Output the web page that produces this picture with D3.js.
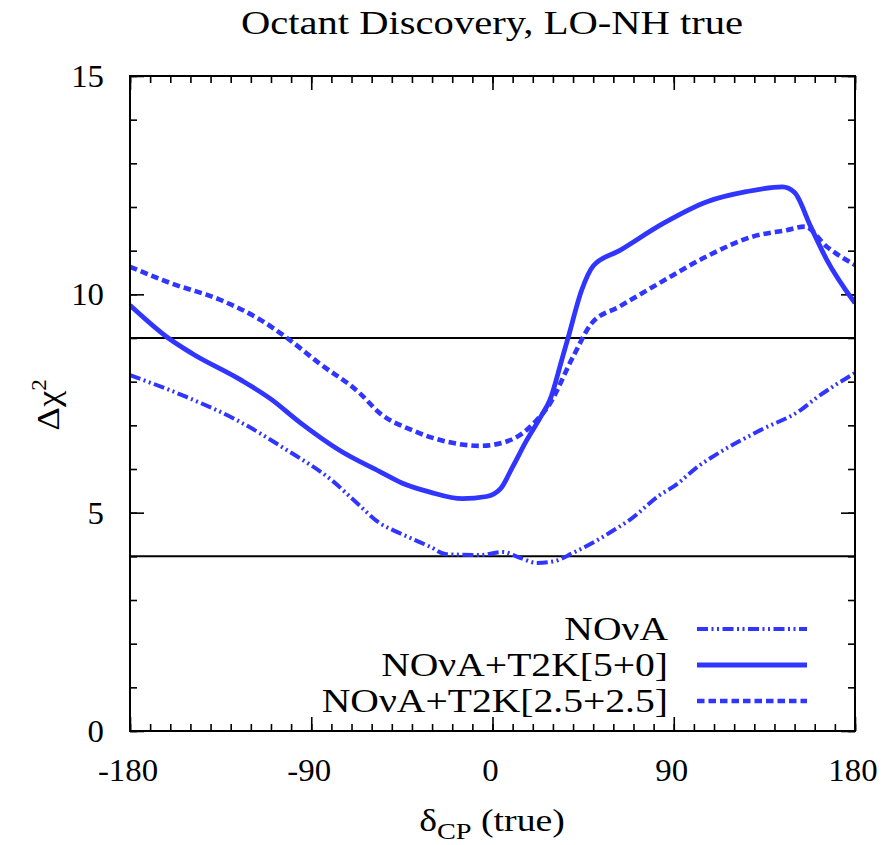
<!DOCTYPE html>
<html><head><meta charset="utf-8">
<script src="https://cdn.jsdelivr.net/npm/d3@7"></script>
<style>body{margin:0;background:#fff}svg{display:block}text{font-family:"Liberation Serif","DejaVu Serif",serif;fill:#000}</style>
</head><body>
<svg id="chart" width="892" height="845"></svg>
<script>
const title = "Octant Discovery, LO-NH true";
const xTicks = [-180, -90, 0, 90, 180];
const yTicks = [0, 5, 10, 15];
const refLines = [9, 4];
const seriesNames = ["NO\u03BDA", "NO\u03BDA+T2K[5+0]", "NO\u03BDA+T2K[2.5+2.5]"];

const novaDelta = [-180, -152, -127, -102, -80, -68, -56, -46, -31, -23, -6, 5, 14, 22, 30, 40, 52, 63, 68, 83, 90, 103, 110, 133, 153, 160, 180];
const novaChi   = [8.15, 7.65, 7.12, 6.43, 5.75, 5.25, 4.76, 4.53, 4.22, 4.05, 4.03, 4.1, 3.96, 3.85, 3.88, 4.08, 4.37, 4.68, 4.83, 5.4, 5.6, 6.09, 6.3, 6.89, 7.35, 7.6, 8.2];

const t2k50Delta = [-180, -161, -149, -125, -110, -96, -76, -56, -45, -31, -15, -3, 4, 10, 17, 24, 28.5, 34.4, 37.5, 44.3, 50, 63, 85, 106.5, 126, 144, 150, 158, 166, 180];
const t2k50Chi   = [9.75, 9.0, 8.64, 8.04, 7.6, 7.08, 6.43, 5.94, 5.68, 5.47, 5.32, 5.37, 5.55, 6.05, 6.66, 7.2, 7.58, 8.5, 9.0, 10.1, 10.65, 11.0, 11.63, 12.12, 12.35, 12.46, 12.33, 11.55, 10.79, 9.8];

const t2k25Delta = [-180, -160, -135, -115, -102, -86, -66, -56, -40, -23, -6, 7, 15, 22, 27.6, 40, 49.3, 63, 83, 106, 129, 146, 155, 166, 180];
const t2k25Chi   = [10.63, 10.26, 9.87, 9.41, 9.0, 8.42, 7.74, 7.28, 6.89, 6.63, 6.53, 6.63, 6.82, 7.12, 7.43, 8.57, 9.34, 9.72, 10.26, 10.86, 11.32, 11.47, 11.55, 11.09, 10.67];

const svg = d3.select("#chart");
const L = 130, R = 855, T = 76, B = 731;
const x = d3.scaleLinear().domain([-180, 180]).range([L, R]);
const y = d3.scaleLinear().domain([0, 15]).range([B, T]);
const blue = "#3035ff";

function txt(g, xp, yp, s, size, anchor, sx) {
  return g.append("text").attr("transform", `translate(${xp},${yp}) scale(${sx || 1.1},1)`)
    .attr("font-size", size).attr("text-anchor", anchor || "middle").text(s);
}

// title
txt(svg, 492, 34, title, 33, "middle", 1.23);

// axes with inward ticks
const minorX = d3.range(-180, 181, 10), minorY = d3.range(0, 16, 1);
const axB = d3.axisBottom(x).tickValues(minorX).tickSize(-7).tickFormat("");
const axT = d3.axisTop(x).tickValues(minorX).tickSize(-7).tickFormat("");
const axL = d3.axisLeft(y).tickValues(minorY).tickSize(-7).tickFormat("");
const axR = d3.axisRight(y).tickValues(minorY).tickSize(-7).tickFormat("");
const axB2 = d3.axisBottom(x).tickValues(xTicks).tickSize(-14).tickFormat("");
const axT2 = d3.axisTop(x).tickValues(xTicks).tickSize(-14).tickFormat("");
const axL2 = d3.axisLeft(y).tickValues(yTicks).tickSize(-14).tickFormat("");
const axR2 = d3.axisRight(y).tickValues(yTicks).tickSize(-14).tickFormat("");
[[axB, `0,${B}`], [axT, `0,${T}`], [axL, `${L},0`], [axR, `${R},0`],
 [axB2, `0,${B}`], [axT2, `0,${T}`], [axL2, `${L},0`], [axR2, `${R},0`]].forEach(([a, tr]) => {
  const g = svg.append("g").attr("transform", `translate(${tr})`).call(a);
  g.selectAll(".domain").remove();
  g.selectAll("line").attr("stroke", "#000").attr("stroke-width", 1.6);
});

// tick labels
xTicks.forEach(v => txt(svg, x(v) - 2, 781, String(v), 31, "middle", 1.06));
yTicks.forEach(v => txt(svg, 104, y(v) + 11, String(v), 31, "end", 1.06));

// reference lines
refLines.forEach(v => svg.append("line").attr("x1", L).attr("x2", R).attr("y1", y(v)).attr("y2", y(v))
  .attr("stroke", "#000").attr("stroke-width", 2));

// curves
const line = d3.line().x(d => x(d[0])).y(d => y(d[1])).curve(d3.curveMonotoneX);
const styles = [
  {dash: "11,3.5,2,3.5,2,3.5", w: 4},
  {dash: null, w: 4.8},
  {dash: "7.5,4", w: 4.6}
];
const series = [
  d3.zip(novaDelta, novaChi),
  d3.zip(t2k50Delta, t2k50Chi),
  d3.zip(t2k25Delta, t2k25Chi)
];
svg.append("clipPath").attr("id", "pc").append("rect")
  .attr("x", L).attr("y", T).attr("width", R - L).attr("height", B - T);
series.forEach((s, i) => {
  svg.append("path").attr("d", line(s)).attr("fill", "none").attr("stroke", blue)
    .attr("stroke-width", styles[i].w).attr("stroke-dasharray", styles[i].dash)
    .attr("clip-path", "url(#pc)");
});

// frame
svg.append("rect").attr("x", L).attr("y", T).attr("width", R - L).attr("height", B - T)
  .attr("fill", "none").attr("stroke", "#000").attr("stroke-width", 2);

// legend
const legY = [629, 665, 701];
seriesNames.forEach((n, i) => {
  txt(svg, 668, legY[i] + 11, n, 33, "end", 1.2);
  svg.append("line").attr("x1", 697).attr("x2", 807).attr("y1", legY[i]).attr("y2", legY[i])
    .attr("stroke", blue).attr("stroke-width", styles[i].w).attr("stroke-dasharray", styles[i].dash);
});

// axis titles
const yl = svg.append("text").attr("transform", "translate(59,405) rotate(-90) scale(1.15,1)")
  .attr("font-size", 32).attr("text-anchor", "middle");
yl.append("tspan").text("\u0394\u03C7");
yl.append("tspan").attr("dy", -13).attr("font-size", 20).text("2");

const xl = svg.append("text").attr("transform", "translate(492,831) scale(1.18,1)")
  .attr("font-size", 32).attr("text-anchor", "middle");
xl.append("tspan").text("\u03B4");
xl.append("tspan").attr("dy", 8).attr("font-size", 24).text("CP");
xl.append("tspan").attr("dy", -8).text(" (true)");
</script>
</body></html>
